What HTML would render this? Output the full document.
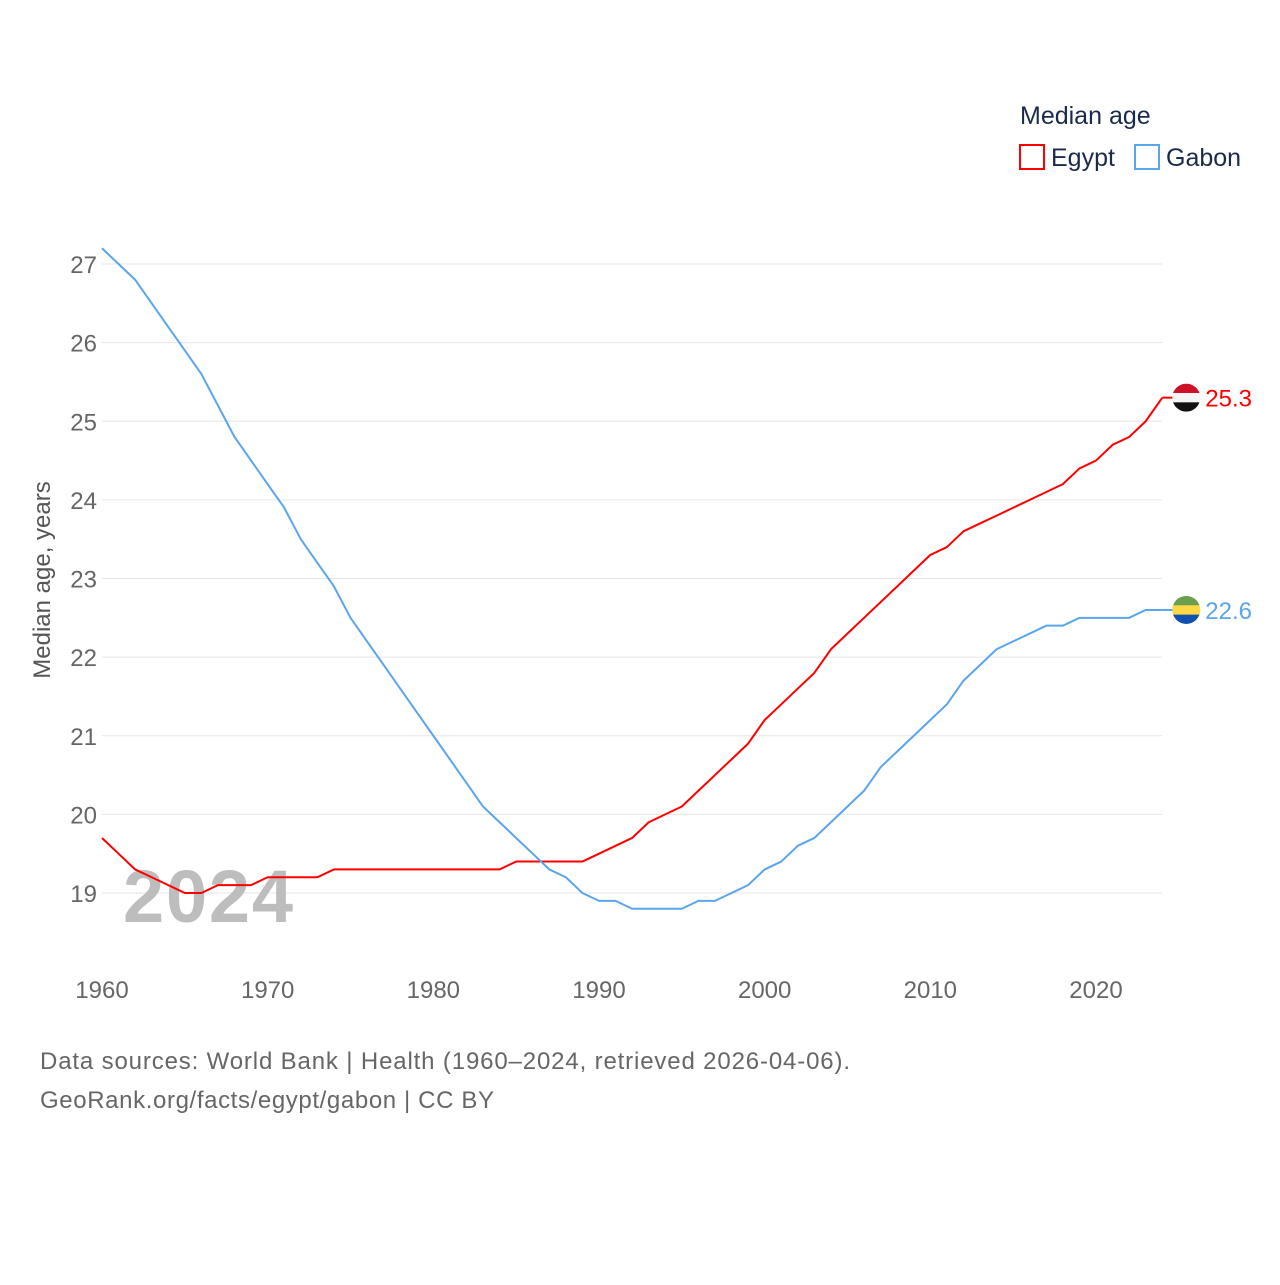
<!DOCTYPE html>
<html><head><meta charset="utf-8"><style>
body{margin:0;background:#fff;font-family:"Liberation Sans",sans-serif}
svg text{font-family:"Liberation Sans",sans-serif}
</style></head><body>
<svg id="chart" width="1280" height="1280" xmlns="http://www.w3.org/2000/svg">
<g id="grid"></g>
<g id="yticks"></g>
<g id="xticks"></g>
<text x="123" y="922" font-size="74" font-weight="bold" fill="#bdbdbd" textLength="170">2024</text>
<text transform="translate(50,580) rotate(-90)" text-anchor="middle" font-size="24" fill="#555">Median age, years</text>
<g id="series"></g>
<g>
<text x="1020" y="124" font-size="25" fill="#1a2b4a">Median age</text>
<g><rect x="1020" y="145" width="24" height="24" fill="none" stroke="#ff0000" stroke-width="2"/><text x="1051" y="166" font-size="25" fill="#1a2b4a">Egypt</text></g>
<g><rect x="1135" y="145" width="24" height="24" fill="none" stroke="#5aa5ec" stroke-width="2"/><text x="1166" y="166" font-size="25" fill="#1a2b4a">Gabon</text></g>
</g>
<text x="40" y="1069" font-size="24" fill="#666" textLength="810">Data sources: World Bank | Health (1960–2024, retrieved 2026-04-06).</text>
<text x="40" y="1108" font-size="24" fill="#666" textLength="454">GeoRank.org/facts/egypt/gabon | CC BY</text>
</svg>
<script>
const years=[];for(let y=1960;y<=2024;y++)years.push(y);
const egypt=[19.7,19.5,19.3,19.2,19.1,19.0,19.0,19.1,19.1,19.1,19.2,19.2,19.2,19.2,19.3,19.3,19.3,19.3,19.3,19.3,19.3,19.3,19.3,19.3,19.3,19.4,19.4,19.4,19.4,19.4,19.5,19.6,19.7,19.9,20.0,20.1,20.3,20.5,20.7,20.9,21.2,21.4,21.6,21.8,22.1,22.3,22.5,22.7,22.9,23.1,23.3,23.4,23.6,23.7,23.8,23.9,24.0,24.1,24.2,24.4,24.5,24.7,24.8,25.0,25.3];
const gabon=[27.2,27.0,26.8,26.5,26.2,25.9,25.6,25.2,24.8,24.5,24.2,23.9,23.5,23.2,22.9,22.5,22.2,21.9,21.6,21.3,21.0,20.7,20.4,20.1,19.9,19.7,19.5,19.3,19.2,19.0,18.9,18.9,18.8,18.8,18.8,18.8,18.9,18.9,19.0,19.1,19.3,19.4,19.6,19.7,19.9,20.1,20.3,20.6,20.8,21.0,21.2,21.4,21.7,21.9,22.1,22.2,22.3,22.4,22.4,22.5,22.5,22.5,22.5,22.6,22.6];
const yTicks=[19,20,21,22,23,24,25,26,27];
const xTicks=[1960,1970,1980,1990,2000,2010,2020];
const NS="http://www.w3.org/2000/svg";
const x=v=>102+(v-1960)*(1096-102)/60;
const y=v=>893-(v-19)*(893-264)/8;
function mk(t,a,p){const e=document.createElementNS(NS,t);for(const k in a)e.setAttribute(k,a[k]);p.appendChild(e);return e;}
const grid=document.getElementById('grid'),yt=document.getElementById('yticks'),xt=document.getElementById('xticks'),ser=document.getElementById('series');
yTicks.forEach(v=>{
 const l=mk('line',{x1:102,x2:1162,y1:y(v),y2:y(v),stroke:'#e6e6e6','stroke-width':1},grid);
 
 
 const t=mk('text',{x:97,y:y(v)+9,'text-anchor':'end','font-size':24,fill:'#666'},yt);t.textContent=v;
 
 
});
xTicks.forEach(v=>{
 const t=mk('text',{x:x(v),y:998,'text-anchor':'middle','font-size':24,fill:'#666'},xt);t.textContent=v;
 
 
});
function series(vals,col,name,flag){
 const p=mk('polyline',{points:vals.map((v,i)=>x(years[i])+','+y(v)).join(' '),fill:'none',stroke:col,'stroke-width':2,'stroke-linejoin':'round'},ser);
 
 
 const last=vals[vals.length-1],lx=x(years[years.length-1]),ly=y(last);
 mk('line',{x1:lx,x2:lx+12,y1:ly,y2:ly,stroke:col,'stroke-width':2},ser);
 const g=mk('g',{},ser);
 
 
 const cx=lx+24,r=14;
 const id='clip'+name;
 const cp=mk('clipPath',{id:id},g);mk('circle',{cx:cx,cy:ly,r:r},cp);
 flag.forEach((c,i)=>mk('rect',{x:cx-r,y:ly-r+i*2*r/3,width:2*r,height:2*r/3+0.5,fill:c,'clip-path':'url(#'+id+')'},g));
 const t=mk('text',{x:cx+19,y:ly+9,'font-size':24,fill:col},ser);t.textContent=last.toFixed(1);
 
 
}
series(egypt,'#ff0000','egypt',['#ce1126','#f5f5f5','#111']);
series(gabon,'#5aa5ec','gabon',['#6a9f4b','#fcd846','#1050b0']);
</script>
</body></html>
